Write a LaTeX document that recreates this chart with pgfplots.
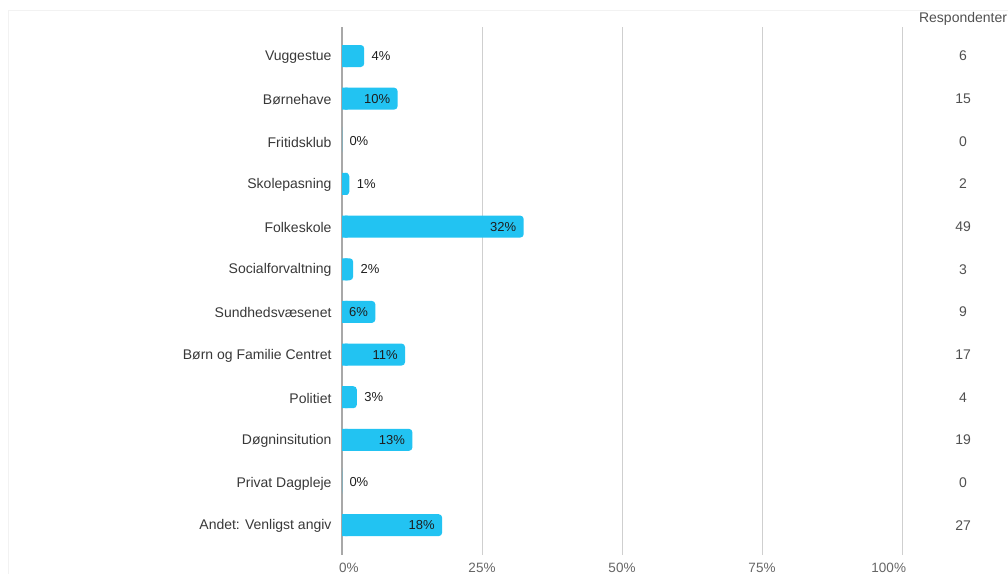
\documentclass[border=0pt]{standalone}
\usepackage{pgfplots}
\pgfplotsset{compat=1.18}
\usepackage{pgfplotstable}
\usepackage{fontspec}
\setmainfont{Liberation Sans}
\definecolor{barblue}{HTML}{22C3F2}
\definecolor{labelgray}{HTML}{383838}
\definecolor{valgray}{HTML}{1E1E1E}
\definecolor{tickgray}{HTML}{666666}
\definecolor{countgray}{HTML}{505050}
\definecolor{gridgray}{HTML}{CFCFCF}
\definecolor{zerogray}{HTML}{A8A8A8}

\pgfplotstableread{
idx v lab n
0 3.97 4 6
1 9.93 10 15
2 0 0 0
3 1.32 1 2
4 32.45 32 49
5 1.99 2 3
6 5.96 6 9
7 11.26 11 17
8 2.65 3 4
9 12.58 13 19
10 0 0 0
11 17.88 18 27
}\datatable

\begin{document}
\begin{tikzpicture}[x=1pt,y=1pt]
\useasboundingbox (0,0) rectangle (1008,574);
\draw[color=black!5, line width=0.8pt] (8,0) -- (8,564) -- (1008,564);
\begin{axis}[
  at={(342pt,19pt)}, anchor=south west,
  width=560pt, height=528pt, scale only axis,
  xmin=0, xmax=100, ymin=-0.68, ymax=11.7, y dir=reverse,
  axis line style={draw=none},
  major tick length=0pt,
  xtick={0,25,50,75,100},
  xticklabels={\rlap{\kern-3pt0\%},25\%,50\%,75\%,\llap{100\%\kern-4pt}},
  xticklabel style={text=tickgray, font=\fontsize{13.5}{15}\selectfont, yshift=-5pt},
  ytick={0,...,11},
  yticklabels={Vuggestue,Børnehave,Fritidsklub,Skolepasning,Folkeskole,Socialforvaltning,Sundhedsvæsenet,Børn og Familie Centret,Politiet,Døgninsitution,Privat Dagpleje,Andet: Venligst angiv},
  yticklabel style={text=labelgray, font=\fontsize{14}{16}\selectfont, xshift=-7pt, yshift=-1pt},
  xmajorgrids, grid style={color=gridgray, line width=0.9pt},
  extra x ticks={0}, extra x tick labels={},
  extra x tick style={grid style={color=zerogray, line width=1.1pt}},
  clip=false,
]
\addplot[xbar, bar width=22pt, bar shift=0pt, fill=barblue, draw=none, rounded corners=3.5pt]
  table[x=v, y=idx]{\datatable};
\addplot[xbar, bar width=22pt, bar shift=0pt, fill=barblue, draw=none]
  table[x expr={min(\thisrow{v},1)}, y=idx]{\datatable};
\addplot[draw=none, mark=none, point meta=explicit symbolic,
  visualization depends on={\thisrow{v} \as \vv},
  nodes near coords={\ifdim\vv pt<5pt\rlap{\kern7.5pt\pgfplotspointmeta\%}\else\llap{\pgfplotspointmeta\%\kern7.5pt}\fi},
  every node near coord/.append style={anchor=center, inner sep=0pt, font=\fontsize{13}{15}\selectfont, text=valgray}]
  table[x=v, y=idx, meta=lab]{\datatable};
\addplot[draw=none, mark=none, point meta=explicit symbolic,
  nodes near coords,
  every node near coord/.append style={anchor=center, inner sep=0pt, font=\fontsize{14}{16}\selectfont, text=countgray}]
  table[x expr=110.9, y=idx, meta=n]{\datatable};
\node[font=\fontsize{14}{16}\selectfont, text=countgray] at (axis cs:110.9,-0.86) {Respondenter};
\end{axis}
\end{tikzpicture}
\end{document}
